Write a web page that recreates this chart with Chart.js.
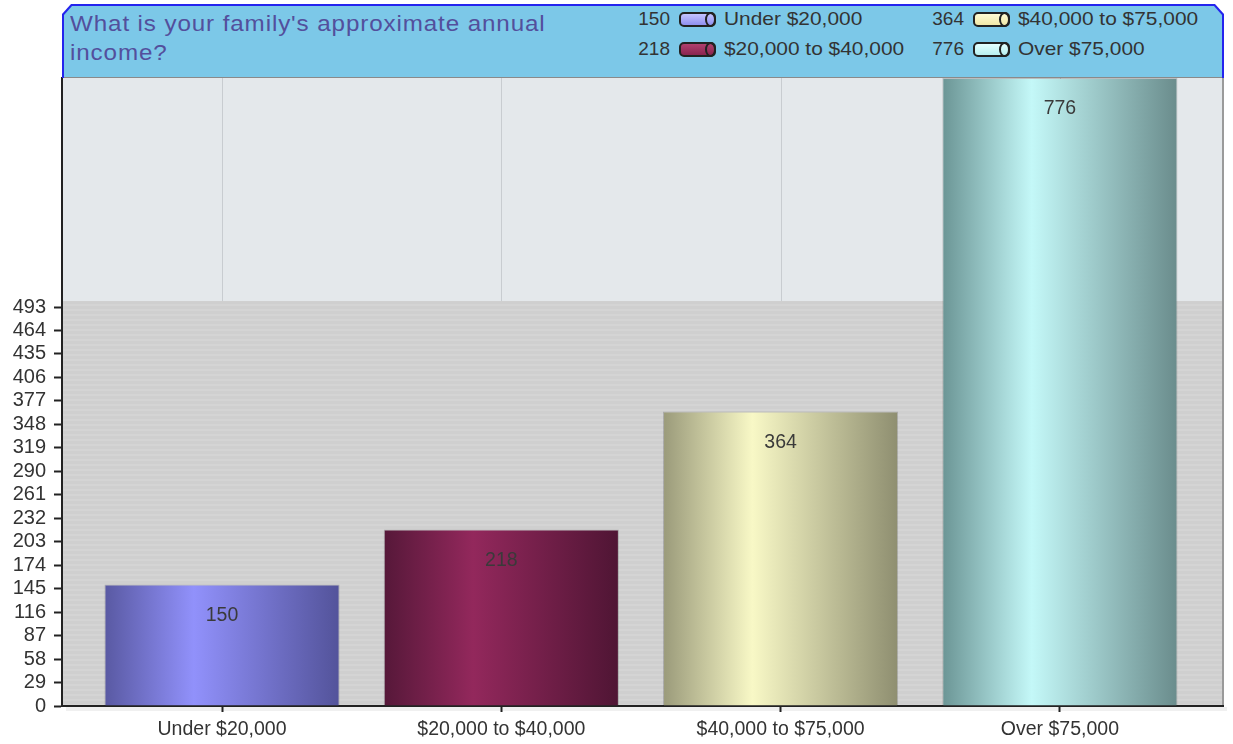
<!DOCTYPE html>
<html>
<head>
<meta charset="utf-8">
<script src="https://cdn.jsdelivr.net/npm/chart.js@4.4.1/dist/chart.umd.min.js"></script>
<style>
  body { margin: 0; background: #fff; font-family: "Liberation Sans", Arial, sans-serif; }
  #wrap { position: relative; width: 1233px; height: 744px; }
  #head {
    position: absolute; left: 62px; top: 4px; width: 1162px; height: 74px;
    background: #2424ee;
    clip-path: polygon(9px 0, 1153px 0, 1162px 10px, 1162px 74px, 0 74px, 0 10px);
  }
  #headIn {
    position: absolute; left: 2px; top: 2px; right: 2px; bottom: 0;
    background: #7cc8e8; border-bottom: 1px solid #8a8a8a;
    clip-path: polygon(8px 0, 1150px 0, 1158px 9px, 1158px 74px, 0 74px, 0 9px);
  }
  #title {
    position: absolute; left: 6px; top: 3px; width: 560px;
    font-size: 22px; line-height: 29px; letter-spacing: 0.8px; color: #534f9c;
    transform: scaleX(1.1); transform-origin: left top;
  }
  .item { position: absolute; display: flex; align-items: center; font-size: 19px; color: #333; height: 22px; }
  .item .num { width: 36px; text-align: right; margin-right: 9px; }
  .item .sw {
    position: relative; width: 33px; height: 11px; border: 2px solid #222; border-radius: 5px;
    margin-right: 8px;
  }
  .item .sw::after {
    content: ""; position: absolute; right: -2px; top: -2px; width: 7px; height: 11px;
    border: 2px solid #222; border-radius: 50%;
  }
  .item .lab { transform: scaleX(1.1); transform-origin: left center; }
</style>
</head>
<body>
<div id="wrap">
  <canvas id="chart" width="1233" height="744"></canvas>
  <div id="head"><div id="headIn"><div id="title">What is your family's approximate annual<br>income?</div></div></div>
</div>
<script>
const categories = ["Under $20,000", "$20,000 to $40,000", "$40,000 to $75,000", "Over $75,000"];
const values = [150, 218, 364, 776];
const yTicks = [0, 29, 58, 87, 116, 145, 174, 203, 232, 261, 290, 319, 348, 377, 406, 435, 464, 493];
const yMax = 776;

const barDark = ["#5959a2", "#561839", "#9a9a7a", "#6b9595"];
const barLight = ["#9191fb", "#93285c", "#f8f8c6", "#c4f8f8"];
const barRight = ["#53539a", "#4f1534", "#8e8e70", "#6a8c8c"];
const swatchTop = ["#c4c4ff", "#b0406e", "#fffbd4", "#e4ffff"];
const swatchBottom = ["#9090f0", "#8a2450", "#f0e8a8", "#b8f0f0"];
const barPct = 0.842;
const fontFamily = '"Liberation Sans", Arial, sans-serif';

// legend in the header
const headIn = document.getElementById("headIn");
categories.forEach(function (c, i) {
  const el = document.createElement("div");
  el.className = "item";
  el.style.left = (i < 2 ? 570 : 864) + "px";
  el.style.top = (i % 2 === 0 ? 2 : 32) + "px";
  el.innerHTML = '<span class="num">' + values[i] + '</span><span class="sw"></span><span class="lab">' + c + "</span>";
  el.querySelector(".sw").style.background =
    "linear-gradient(to bottom, " + swatchTop[i] + ", " + swatchBottom[i] + ")";
  headIn.appendChild(el);
});

const backdrop = {
  id: "backdrop",
  beforeDraw(chart) {
    const ctx = chart.ctx, a = chart.chartArea;
    const xs = chart.scales.x, ys = chart.scales.y;
    ctx.save();
    ctx.fillStyle = "#e4e8eb";
    ctx.fillRect(a.left, a.top, a.right - a.left, a.bottom - a.top);
    ctx.strokeStyle = "#c8ccd0";
    ctx.lineWidth = 1;
    categories.forEach(function (c, i) {
      const x = Math.round(xs.getPixelForValue(i)) + 0.5;
      ctx.beginPath();
      ctx.moveTo(x, a.top);
      ctx.lineTo(x, a.bottom);
      ctx.stroke();
    });
    const bandTop = ys.getPixelForValue(yTicks[yTicks.length - 1]) - 6;
    ctx.fillStyle = "#cfcfcf";
    ctx.fillRect(a.left, bandTop, a.right - a.left, a.bottom - bandTop);
    ctx.fillStyle = "#d4d4d4";
    for (let y = bandTop + 3; y < a.bottom; y += 5) {
      ctx.fillRect(a.left, y, a.right - a.left, 2);
    }
    ctx.strokeStyle = "#9a9a9a";
    ctx.lineWidth = 2;
    ctx.beginPath();
    ctx.moveTo(a.right, a.top);
    ctx.lineTo(a.right, a.bottom);
    ctx.stroke();
    // soft shadow under the axis
    ctx.fillStyle = "rgba(0,0,0,0.06)";
    ctx.fillRect(a.left + 4, a.bottom + 1, a.right - a.left, 4);
    ctx.restore();
  },
  afterDatasetsDraw(chart) {
    const ctx = chart.ctx;
    ctx.save();
    ctx.font = "19.5px " + fontFamily;
    ctx.fillStyle = "#3a3a3a";
    ctx.textAlign = "center";
    ctx.textBaseline = "middle";
    chart.getDatasetMeta(0).data.forEach(function (bar, i) {
      ctx.fillText(String(values[i]), bar.x, bar.y + 31);
    });
    ctx.restore();
  }
};

new Chart(document.getElementById("chart"), {
  type: "bar",
  data: {
    datasets: [{
      data: values.map(function (v, i) { return { x: i, y: v }; }),
      backgroundColor: function (c) {
        const chart = c.chart, xs = chart.scales.x;
        if (!chart.chartArea || !xs) return barDark[c.dataIndex];
        const cx = xs.getPixelForValue(c.dataIndex);
        const w = (xs.getPixelForValue(1) - xs.getPixelForValue(0)) * barPct;
        const g = chart.ctx.createLinearGradient(cx - w / 2, 0, cx + w / 2, 0);
        g.addColorStop(0, barDark[c.dataIndex]);
        g.addColorStop(0.38, barLight[c.dataIndex]);
        g.addColorStop(1, barRight[c.dataIndex]);
        return g;
      },
      borderColor: "rgba(0,0,0,0.18)",
      borderWidth: 1,
      barPercentage: barPct,
      categoryPercentage: 1
    }]
  },
  options: {
    responsive: false,
    animation: false,
    layout: { padding: { top: 78, right: 10, left: 0, bottom: 0 } },
    plugins: { legend: { display: false }, tooltip: { enabled: false } },
    scales: {
      x: {
        type: "linear",
        offset: false,
        min: -0.573,
        max: 3.584,
        afterBuildTicks: function (s) { s.ticks = categories.map(function (c, i) { return { value: i }; }); },
        afterFit: function (s) { s.height = 38; },
        grid: { offset: false, drawOnChartArea: false, drawTicks: true, tickLength: 6, tickColor: "#222", tickWidth: 2 },
        border: { color: "#222", width: 2 },
        ticks: {
          autoSkip: false, maxRotation: 0, padding: 6,
          color: "#333", font: { family: fontFamily, size: 19.5 },
          callback: function (v) { return categories[v]; }
        }
      },
      y: {
        min: 0,
        max: yMax,
        afterBuildTicks: function (s) { s.ticks = yTicks.map(function (v) { return { value: v }; }); },
        afterFit: function (s) { s.width = 62; },
        grid: { drawOnChartArea: false, drawTicks: true, tickLength: 8, tickColor: "#222", tickWidth: 2 },
        border: { color: "#222", width: 2 },
        ticks: {
          padding: 8, color: "#333", font: { family: fontFamily, size: 20 },
          callback: function (v) { return v; }
        }
      }
    }
  },
  plugins: [backdrop]
});
</script>
</body>
</html>
